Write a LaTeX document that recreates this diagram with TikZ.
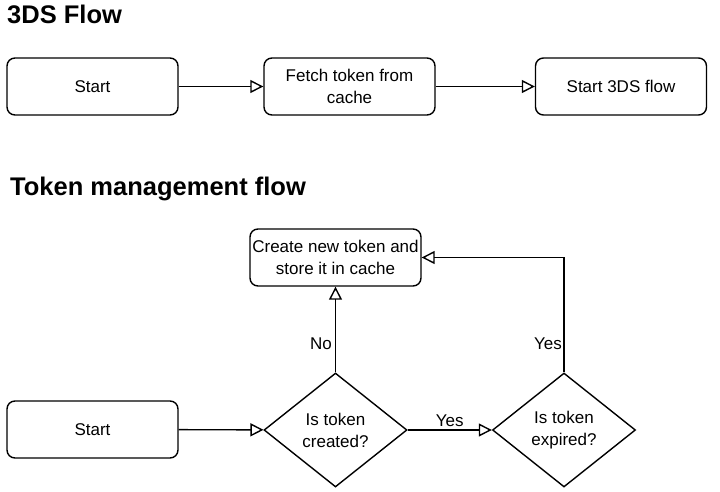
\documentclass[tikz,border=0pt]{standalone}
\usepackage{fontspec}
\setmainfont{Liberation Sans}
\usetikzlibrary{shapes.geometric,arrows.meta}
\tikzset{
  box/.style={draw, line width=1.4pt, rounded corners=8pt, minimum width=171pt, minimum height=57pt, align=center, font=\fontsize{17}{22}\selectfont, inner sep=0pt},
  dec/.style={draw, line width=1.4pt, diamond, minimum width=143pt, minimum height=114pt, aspect=1.25, align=center, font=\fontsize{17}{22}\selectfont, inner sep=0pt},
  conn/.style={line width=1.4pt, -{Triangle[open, length=13pt, width=13pt, line width=1.4pt]}},
  ttl/.style={anchor=base west, font=\fontsize{25.5}{30}\selectfont\bfseries, inner sep=0pt},
  lbl/.style={font=\fontsize{17}{20}\selectfont, inner sep=1pt}
}
\begin{document}
\begin{tikzpicture}[x=1pt,y=-1pt]
\useasboundingbox (0,0) rectangle (720,492);
\node[ttl] (t1) at (7,24) {3DS Flow};
\node[box] (s1) at (92.5,86.5) {Start};
\node[box] (f1) at (349.5,86.5) {Fetch token from\\cache};
\node[box] (d1) at (621,86.5) {Start 3DS flow};
\draw[conn] (s1) -- (f1);
\draw[conn] (f1) -- (d1);

\node[ttl] (t2) at (10,195) {Token management flow};
\node[box] (c2) at (335.5,257.5) {Create new token and\\store it in cache};
\node[box] (s2) at (92.5,429.5) {Start};
\node[dec] (q1) at (335.5,430) {Is token\\created?};
\node[dec] (q2) at (564,430) {Is token\\expired?};
\coordinate (k) at (q2.north |- c2.east);
\draw[conn] (s2) -- (q1);
\draw[conn] (q1) -- node[lbl, above=2pt] {Yes} (q2);
\draw[conn] (q1.north) -- (c2.south);
\node[lbl, anchor=east] (no) at (333,344) {No};
\draw[conn] (q2.north) -- (k) -- (c2.east);
\node[lbl, anchor=east] (yes2) at (563,344) {Yes};
\end{tikzpicture}
\end{document}
